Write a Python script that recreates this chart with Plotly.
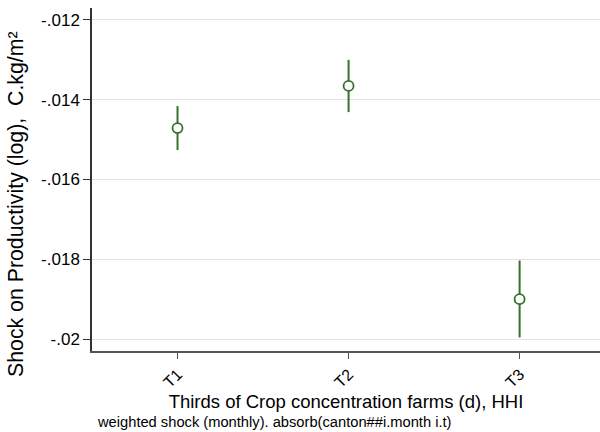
import plotly.graph_objects as go

categories = ["T1", "T2", "T3"]
estimates = [-0.01471, -0.013654, -0.0190]
ci_upper = [-0.01416, -0.0130, -0.01803]
ci_lower = [-0.01526, -0.01431, -0.01996]
y_tick_vals = [-0.012, -0.014, -0.016, -0.018, -0.020]
y_tick_text = ["-.012", "-.014", "-.016", "-.018", "-.02"]

xpos = list(range(1, len(categories) + 1))
err_plus = [u - e for u, e in zip(ci_upper, estimates)]
err_minus = [e - l for e, l in zip(estimates, ci_lower)]

green = "#36702A"
font = "Liberation Sans, Arial, sans-serif"
PLOT_H = 432 - 8 - 81
PLOT_W = 600 - 92

fig = go.Figure()
fig.add_trace(go.Scatter(
    x=xpos, y=estimates, mode="markers",
    marker=dict(symbol="circle", size=10, color="white",
                line=dict(color=green, width=1.8)),
    error_y=dict(type="data", symmetric=False, array=err_plus, arrayminus=err_minus,
                 color=green, thickness=2, width=0),
    showlegend=False,
))

fig.update_layout(
    width=600, height=432,
    margin=dict(l=92, r=0, t=8, b=81),
    paper_bgcolor="white", plot_bgcolor="white",
    font=dict(family=font, color="black"),
    xaxis=dict(
        range=[0.5, 3.47], tickvals=xpos, ticktext=categories, tickangle=-45,
        showgrid=False, zeroline=False, showline=True, linecolor="#555555", linewidth=1.5,
        ticks="outside", ticklen=6, tickcolor="#555555", tickwidth=1.2,
        tickfont=dict(size=16, family=font), automargin=False,
        title=dict(text="Thirds of Crop concentration farms (d), HHI",
                   font=dict(size=18.5, family=font), standoff=4),
    ),
    yaxis=dict(
        range=[-0.0203, -0.0117], tickvals=y_tick_vals, ticktext=y_tick_text,
        showgrid=True, gridcolor="#e3e3e3", gridwidth=1.2, zeroline=False,
        showline=True, linecolor="#333333", linewidth=1.5,
        ticks="outside", ticklen=7, tickcolor="#333333", tickwidth=1.2,
        tickfont=dict(size=17, family=font), automargin=False,
    ),
)

# y-axis title placed as annotation (centered lower than plot middle, as in reference)
fig.add_annotation(
    text="Shock on Productivity (log),\u00a0 C.kg/m²",
    xref="paper", yref="paper", x=(16 - 92) / PLOT_W, y=(351 - 204) / PLOT_H,
    xanchor="center", yanchor="middle", textangle=-90, showarrow=False,
    font=dict(size=21.3, family=font, color="black"),
)

fig.add_annotation(
    text="weighted shock (monthly). absorb(canton##i.month i.t)",
    xref="paper", yref="paper", x=(95 - 92) / PLOT_W, y=-(422 - 351) / PLOT_H,
    xanchor="left", yanchor="middle", showarrow=False,
    font=dict(size=14.7, family=font, color="black"),
)

fig.write_html("out.html", config={"displayModeBar": False},
               post_script="document.body.style.margin='0';document.body.style.padding='0';")
